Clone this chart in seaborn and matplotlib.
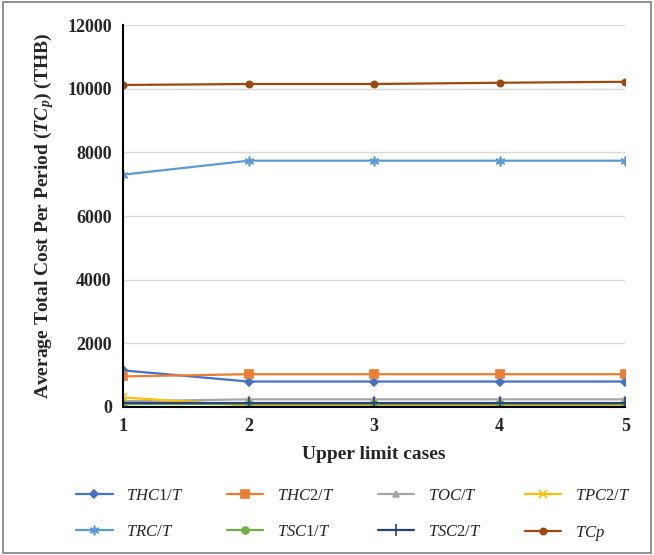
import matplotlib
matplotlib.use("Agg")
import matplotlib.pyplot as plt
import seaborn as sns
import pandas as pd
from matplotlib.patches import Rectangle

cases = [1, 2, 3, 4, 5]
series_names = ["$THC1/T$", "$THC2/T$", "$TOC/T$", "$TPC2/T$",
                "$TRC/T$", "$TSC1/T$", "$TSC2/T$", "$TCp$"]
thc1 = [1150, 800, 800, 800, 800]
thc2 = [960, 1030, 1030, 1030, 1030]
toc = [180, 240, 240, 240, 240]
tpc2 = [300, 40, 40, 40, 40]
trc = [7300, 7740, 7740, 7740, 7740]
tsc1 = [100, 100, 100, 100, 100]
tsc2 = [120, 120, 120, 120, 120]
tcp = [10120, 10150, 10150, 10190, 10220]
values = [thc1, thc2, toc, tpc2, trc, tsc1, tsc2, tcp]
y_ticks = [0, 2000, 4000, 6000, 8000, 10000, 12000]

colors = ["#4472C4", "#ED7D31", "#A5A5A5", "#FFC000",
          "#5B9BD5", "#70AD47", "#264478", "#9E480E"]
markers = ["D", "s", "^", "x", (6, 2, 0), "o", "+", "o"]
msizes = [4.5, 5.5, 5, 6, 7, 5, 8, 4.5]

sns.set_theme(style="white")
plt.rcParams["font.family"] = ["Liberation Serif", "DejaVu Serif"]
plt.rcParams["mathtext.fontset"] = "custom"
plt.rcParams["mathtext.rm"] = "Liberation Serif"
plt.rcParams["mathtext.it"] = "Liberation Serif:italic"
plt.rcParams["mathtext.bf"] = "Liberation Serif:bold"
try:
    plt.rcParams["mathtext.bfit"] = "Liberation Serif:italic:bold"
except Exception:
    pass

fig = plt.figure(figsize=(6.54, 5.55), dpi=100)
ax = fig.add_axes([0.188, 0.2667, 0.768, 0.688])

for name, vals, c, m, ms in zip(series_names, values, colors, markers, msizes):
    df = pd.DataFrame({"case": cases, "value": vals})
    sns.lineplot(data=df, x="case", y="value", ax=ax, color=c, marker=m,
                 markersize=ms, markeredgecolor=c, markeredgewidth=1.2,
                 linewidth=1.6, label=name)

ax.set_xlim(1, 5)
ax.set_ylim(0, 12000)
ax.set_yticks(y_ticks)
ax.set_xticks(cases)
ax.yaxis.grid(True, color="#D9D9D9", linewidth=1)
ax.set_axisbelow(True)
for s in ["top", "right"]:
    ax.spines[s].set_visible(False)
for s in ["left", "bottom"]:
    ax.spines[s].set_color("black")
    ax.spines[s].set_linewidth(1.5)
ax.tick_params(axis="y", length=4, width=1.2, color="black", labelsize=13, pad=4)
ax.tick_params(axis="x", length=0, labelsize=13, pad=8)
for lab in ax.get_xticklabels() + ax.get_yticklabels():
    lab.set_fontweight("bold")

ax.set_xlabel("Upper limit cases", fontsize=14, fontweight="bold", labelpad=8)
ax.set_ylabel("Average Total Cost Per Period ($\\mathbfit{TC_p}$) (THB)",
              fontsize=14, fontweight="bold", labelpad=8)

ax.get_legend().remove()
handles, labels = ax.get_legend_handles_labels()
order = [0, 4, 1, 5, 2, 6, 3, 7]
fig.legend([handles[i] for i in order], [labels[i] for i in order],
           loc="center", bbox_to_anchor=(0.54, 0.071),
           ncol=4, frameon=False, fontsize=12, handlelength=2.2,
           columnspacing=2.6, labelspacing=1.2, handletextpad=0.8)

fig.patches.append(Rectangle((0.004, 0.004), 0.992, 0.992, transform=fig.transFigure,
                             fill=False, edgecolor="#7F7F7F", linewidth=1.2))

fig.savefig("out.png", dpi=100)
